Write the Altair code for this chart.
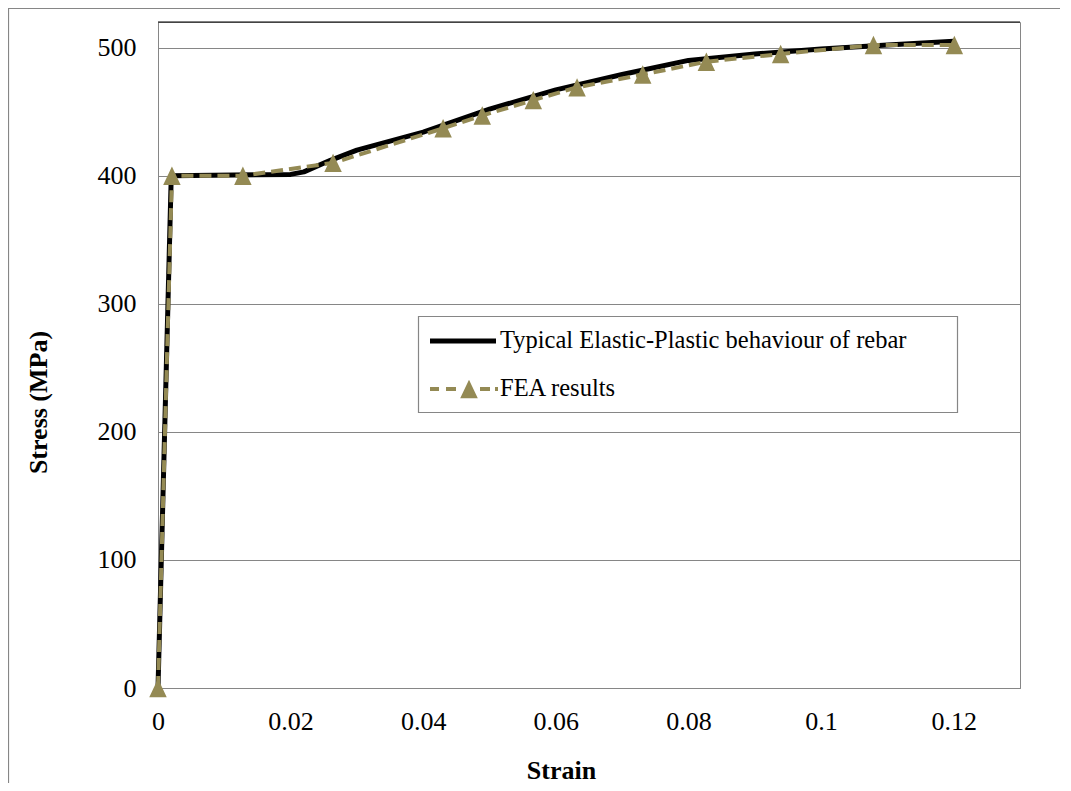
import altair as alt
import pandas as pd

# ---- data ----
typ_strain = [0, 0.002, 0.02, 0.022, 0.026, 0.03, 0.04, 0.05, 0.06, 0.07, 0.08, 0.09, 0.1, 0.11, 0.12]
typ_stress = [0, 400, 401, 403, 412, 420, 434, 452, 467, 479, 490, 495, 499, 502, 505]

fea_strain = [0, 0.0021, 0.0128, 0.0264, 0.0430, 0.0489, 0.0566, 0.0632, 0.0731, 0.0827, 0.0939, 0.1079, 0.1201]
fea_stress = [0, 400, 400, 410, 437, 447, 459, 469, 479, 489, 495, 502, 502]

series_names = ["Typical Elastic-Plastic behaviour of rebar", "FEA results"]
x_ticks = [0, 0.02, 0.04, 0.06, 0.08, 0.1, 0.12]
y_ticks = [0, 100, 200, 300, 400, 500]

# ---- styles ----
BLACK = "#000000"
OLIVE = "#948A54"
GRID = "#868686"
FONT = "Liberation Serif"
W, H = 862, 666

TRI = "M0,-1.05L1,1.05L-1,1.05Z"
LEG_LINE = "M-0.65,-0.13H2.65V0.13H-0.65Z"
LEG_FEA = ("M-0.65,-0.1H-0.2V0.1H-0.65Z M0.15,-0.1H0.65V0.1H0.15Z "
           "M1.85,-0.1H2.35V0.1H1.85Z M2.6,-0.1H2.75V0.1H2.6Z "
           "M1.3,-0.46L1.74,0.46L0.86,0.46Z")

typ_df = pd.DataFrame({"strain": typ_strain, "stress": typ_stress})
fea_df = pd.DataFrame({"strain": fea_strain, "stress": fea_stress})
leg_df = pd.DataFrame({"series": series_names})
one = pd.DataFrame({"a": [0]})

xenc = alt.X("strain:Q",
             scale=alt.Scale(domain=[0, 0.13], nice=False, zero=False),
             axis=alt.Axis(values=x_ticks, format="~g", title="Strain", grid=False,
                           ticks=False, domainColor=GRID, labelPadding=20,
                           labelFlush=False, titleX=403, titleY=90,
                           titleAlign="center", titleBaseline="alphabetic"))
yenc = alt.Y("stress:Q",
             scale=alt.Scale(domain=[0, 520], nice=False),
             axis=alt.Axis(values=y_ticks, format="d", title="Stress (MPa)", grid=True,
                           gridColor=GRID, ticks=False, domainColor=GRID,
                           labelPadding=22, titleX=-112, titleY=380, titleAngle=270,
                           titleAlign="center", titleBaseline="alphabetic"))

outer = alt.Chart(one).mark_rect(filled=False, stroke=GRID, strokeWidth=1.2).encode(
    x=alt.value(-149.5), x2=alt.value(1000), y=alt.value(-13.5), y2=alt.value(900))

top_rule = alt.Chart(one).mark_rule(color=BLACK, strokeWidth=1).encode(
    x=alt.value(0), x2=alt.value(W), y=alt.value(0))

typ_line = alt.Chart(typ_df).mark_line(color=BLACK, strokeWidth=5, strokeJoin="round").encode(
    x=xenc, y=yenc)

fea_line = alt.Chart(fea_df).mark_line(color=OLIVE, strokeWidth=4, strokeDash=[12, 6]).encode(
    x="strain:Q", y="stress:Q")

fea_pts = alt.Chart(fea_df).mark_point(shape=TRI, filled=True, color=OLIVE, size=306, opacity=1).encode(
    x="strain:Q", y="stress:Q")

# legend frame (Excel draws the box wider than the text)
leg_box = alt.Chart(one).mark_rect(fill="white", stroke=GRID, strokeWidth=1.2).encode(
    x=alt.value(260.5), x2=alt.value(799.5), y=alt.value(294.5), y2=alt.value(390.5))

legend = alt.Legend(orient="none", legendX=259, legendY=293, padding=6,
                    labelFont=FONT,
                    labelFontSize=24.5, labelColor=BLACK, labelLimit=0, labelOffset=37,
                    symbolSize=1600, symbolOpacity=1, symbolStrokeWidth=0,
                    rowPadding=16, symbolOffset=0, title=None)

leg_layer = alt.Chart(leg_df).mark_point(filled=True, opacity=0, size=1600).encode(
    x=alt.value(0), y=alt.value(0),
    color=alt.Color("series:N", scale=alt.Scale(domain=series_names, range=[BLACK, OLIVE]),
                    legend=legend),
    shape=alt.Shape("series:N", scale=alt.Scale(domain=series_names, range=[LEG_LINE, LEG_FEA]),
                    legend=legend))

chart = alt.layer(outer, top_rule, typ_line, fea_line, fea_pts, leg_box, leg_layer).properties(
    width=W, height=H,
    padding={"left": 150, "top": 14, "right": 40, "bottom": 95},
    autosize=alt.AutoSizeParams(type="none"),
    background="white",
).configure_axis(
    labelFont=FONT, titleFont=FONT, labelFontSize=26, titleFontSize=26,
    titleFontWeight="bold", labelColor=BLACK, titleColor=BLACK,
).configure_view(stroke=GRID, strokeWidth=1)

chart.save("out.html", embed_options={"renderer": "svg", "actions": False})
